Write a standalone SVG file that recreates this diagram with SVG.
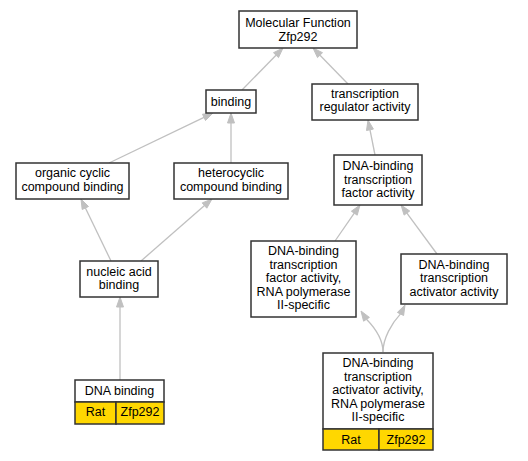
<svg xmlns="http://www.w3.org/2000/svg" width="528" height="461" viewBox="0 0 528 461">
<style>
.box{fill:#fff;stroke:#333;stroke-width:1.5}
.gold{fill:#ffd700;stroke:#333;stroke-width:1.5}
.e{fill:none;stroke:#c0c0c0;stroke-width:1.3}
.a{fill:#c0c0c0;stroke:#c0c0c0;stroke-width:1}
text{font-family:"Liberation Sans",Arial,sans-serif;font-size:12.5px;fill:#000;text-anchor:middle}
</style>
<rect width="528" height="461" fill="#fff"/>
<g id="connectors">
<path class="e" d="M242,90 L276,55.2"/><polygon class="a" points="283,48 278.5,57.6 273.5,52.7"/>
<path class="e" d="M348,84 L320,55.2"/><polygon class="a" points="313,48 322.5,52.7 317.5,57.6"/>
<path class="e" d="M109,163 L204,117.3"/><polygon class="a" points="213,113 205.5,120.5 202.5,114.2"/>
<path class="e" d="M231,163 L231,123"/><polygon class="a" points="231,113 234.5,123 227.5,123"/>
<path class="e" d="M375,155 L370,129.8"/><polygon class="a" points="368,120 373.4,129.1 366.5,130.5"/>
<path class="e" d="M111,261 L85.4,208"/><polygon class="a" points="81,199 88.5,206.5 82.2,209.5"/>
<path class="e" d="M141,261 L204.5,205.6"/><polygon class="a" points="212,199 206.8,208.2 202.2,202.9"/>
<path class="e" d="M120,380 L120,307"/><polygon class="a" points="120,297 123.5,307 116.5,307"/>
<path class="e" d="M335,241 L354.3,213.2"/><polygon class="a" points="360,205 357.2,215.2 351.4,211.2"/>
<path class="e" d="M437,254 L406.9,213.1"/><polygon class="a" points="401,205 409.7,211 404.1,215.1"/>
<path class="e" d="M383,352 C383,340 375,328 366.5,319.3"/><polygon class="a" points="361,311 369.4,317.4 363.6,321.2"/>
<path class="e" d="M383,352 C383,338 392,323 400.5,313.9"/><polygon class="a" points="405,305 403.6,315.5 397.4,312.4"/>
</g>
<g id="mf"><rect class="box" x="239" y="11" width="118" height="37"/><text x="298" y="27">Molecular Function</text><text x="298" y="40.5">Zfp292</text></g>
<g id="binding"><rect class="box" x="206" y="90" width="50" height="23"/><text x="231" y="105.5">binding</text></g>
<g id="tra"><rect class="box" x="312" y="84" width="106" height="36"/><text x="365" y="97.5">transcription</text><text x="365" y="111">regulator activity</text></g>
<g id="organic"><rect class="box" x="16" y="163" width="113" height="36"/><text x="72.5" y="177">organic cyclic</text><text x="72.5" y="190.5">compound binding</text></g>
<g id="hetero"><rect class="box" x="174" y="163" width="114" height="36"/><text x="231" y="177">heterocyclic</text><text x="231" y="190.5">compound binding</text></g>
<g id="dbtf"><rect class="box" x="334" y="155" width="88" height="50"/><text x="378" y="170">DNA-binding</text><text x="378" y="183.5">transcription</text><text x="378" y="197">factor activity</text></g>
<g id="nucleic"><rect class="box" x="80" y="261" width="78" height="36"/><text x="119" y="275.5">nucleic acid</text><text x="119" y="289">binding</text></g>
<g id="dbtf2"><rect class="box" x="251" y="241" width="105" height="76"/><text x="303.5" y="255">DNA-binding</text><text x="303.5" y="268.5">transcription</text><text x="303.5" y="282">factor activity,</text><text x="303.5" y="295.5">RNA polymerase</text><text x="303.5" y="309">II-specific</text></g>
<g id="activator"><rect class="box" x="401" y="254" width="106" height="50"/><text x="454" y="268.5">DNA-binding</text><text x="454" y="282">transcription</text><text x="454" y="295.5">activator activity</text></g>
<g id="dnabinding"><rect class="box" x="75" y="380" width="89" height="22"/><text x="119.5" y="394.5">DNA binding</text><rect class="gold" x="75" y="402" width="41" height="22"/><rect class="gold" x="116" y="402" width="48" height="22"/><text x="95.5" y="416">Rat</text><text x="140" y="416">Zfp292</text></g>
<g id="activator2"><rect class="box" x="323" y="353" width="110" height="76"/><text x="378" y="367">DNA-binding</text><text x="378" y="380.5">transcription</text><text x="378" y="394">activator activity,</text><text x="378" y="407.5">RNA polymerase</text><text x="378" y="421">II-specific</text><rect class="gold" x="323" y="429" width="56" height="21"/><rect class="gold" x="379" y="429" width="54" height="21"/><text x="351" y="443.5">Rat</text><text x="406" y="443.5">Zfp292</text></g>
</svg>
